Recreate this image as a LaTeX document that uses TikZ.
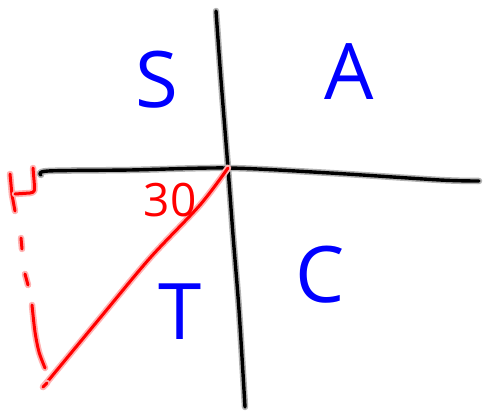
\documentclass[tikz,border=0pt]{standalone}
\usepackage{fontspec}
\setmainfont{Open Sans}
\begin{document}
\begin{tikzpicture}[x=1pt,y=-1pt,
  blackpen/.style={line width=3.4pt,black,line cap=round,line join=round,
     preaction={draw=black!30,line width=6.5pt,line cap=round,line join=round}},
  redpen/.style={line width=3pt,red,line cap=round,line join=round,
     preaction={draw=red!30,line width=6.5pt,line cap=round,line join=round}},
  bluelabel/.style={text=blue,inner sep=0pt,font=\fontsize{78}{78}\selectfont},
  redlabel/.style={text=red,inner sep=0pt,font=\fontsize{46}{46}\selectfont}]
\useasboundingbox (0,0) rectangle (483,414);
% axes
\coordinate (vtop) at (216,11);
\coordinate (vbot) at (245,407);
\coordinate (o) at (228,168);
\coordinate (hleft) at (41,175);
\coordinate (hright) at (479,181);
\draw[blackpen] plot[smooth] coordinates {(vtop) (221,80) (o) (233,235) (239,310) (vbot)};
\draw[blackpen] plot[smooth] coordinates {(hleft) (48,171) (130,170) (o) (330,173) (440,180) (hright)};
% triangle
\coordinate (foot) at (43,387);
\draw[redpen] plot[smooth] coordinates {(o) (200,205) (150,258) (100,318) (foot)};
\draw[redpen] (foot) -- (47,383);
% dashed side
\draw[redpen] (21,238) -- (22,249);
\draw[redpen] (25,274) -- (28,285);
\draw[redpen] plot[smooth] coordinates {(32,305) (35,332) (39,352) (45,368)};
% red mark at corner
\draw[redpen] (10,174) -- (12,195) -- (15,211);
\draw[redpen] (15,194) -- (30,193) .. controls (35,192) .. (34,180) -- (33,168);
% labels
\node[bluelabel] (S) at (157,80) {S};
\node[bluelabel] (A) at (349,72) {A};
\node[bluelabel] (T) at (180,312) {T};
\node[bluelabel] (C) at (320,275) {C};
\node[redlabel] (thirty) at (170,200) {30};
\end{tikzpicture}
\end{document}
